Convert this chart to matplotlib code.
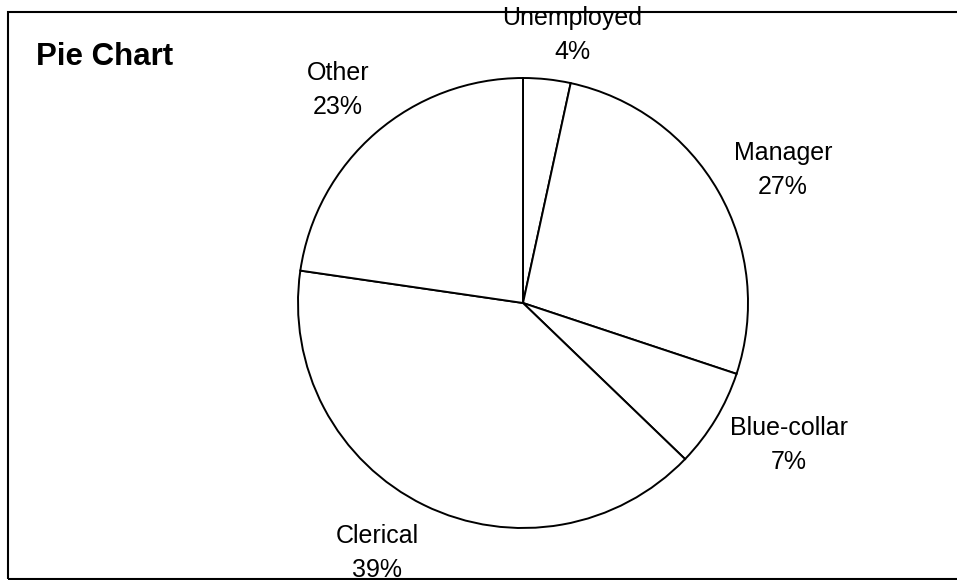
import matplotlib
matplotlib.use("Agg")
import matplotlib.pyplot as plt
from matplotlib.patches import Rectangle

plt.rcParams['font.family'] = ['Liberation Sans', 'DejaVu Sans']

# Data
categories = ["Unemployed", "Manager", "Blue-collar", "Clerical", "Other"]
shares = [3.4, 26.7, 7.1, 40.1, 22.7]
pct_labels = ["4%", "27%", "7%", "39%", "23%"]
title = "Pie Chart"

W, H = 957, 580
fig = plt.figure(figsize=(W / 100, H / 100), dpi=100)
ax = fig.add_axes([0, 0, 1, 1])
ax.set_xlim(0, W)
ax.set_ylim(0, H)
ax.set_aspect('equal')
ax.axis('off')

cx, cy, r = 523, H - 303, 225
ax.pie(shares, startangle=90, counterclock=False, center=(cx, cy), radius=r,
       colors=['white'] * len(shares),
       wedgeprops=dict(edgecolor='black', linewidth=1.4))
ax.set_xlim(0, W)
ax.set_ylim(0, H)

# label offsets from the pie center (pixels, layout only)
label_offsets = [(49, 268), (260, 133), (266, -142), (-146, -250), (-185, 213)]
for name, pct, (dx, dy) in zip(categories, pct_labels, label_offsets):
    ax.text(cx + dx, cy + dy, f"{name}\n{pct}", ha='center', va='center',
            fontsize=18, linespacing=1.5, color='black')

ax.text(36, H - 57, title, ha='left', va='center', fontsize=22.5,
        fontweight='bold', color='black')

# outer frame (extends beyond right edge)
ax.add_patch(Rectangle((8, H - 579), 1000, 567, fill=False,
                       edgecolor='black', linewidth=1.5, clip_on=False))

fig.savefig("out.png", dpi=100)
